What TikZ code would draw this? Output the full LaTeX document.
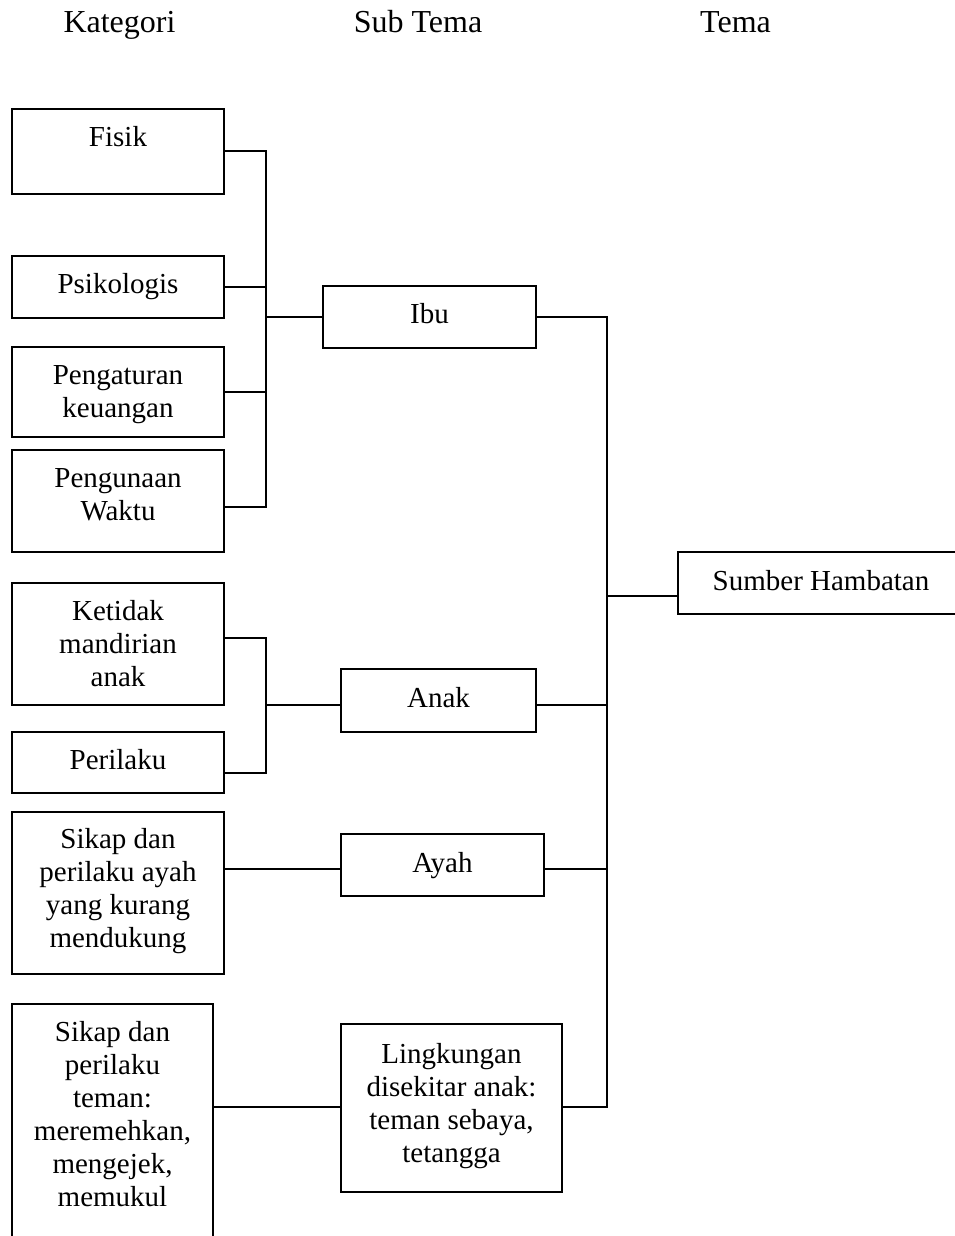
\documentclass[tikz,border=0pt]{standalone}
\usepackage{fontspec}
\setmainfont{Liberation Serif}
\usetikzlibrary{positioning}
\begin{document}
\begin{tikzpicture}[x=1pt,y=-1pt,
  box/.style={draw, line width=1.9pt, inner sep=0pt, outer sep=0pt},
  lbl/.style={inner sep=0pt, outer sep=0pt, align=center,
    font=\fontsize{29}{33}\selectfont},
  head/.style={inner sep=0pt, font=\fontsize{32}{36}\selectfont},
  wire/.style={line width=1.9pt}]
\useasboundingbox (0,0) rectangle (955,1236);
\clip (0,0) rectangle (955,1236);

% column headings
\node[head, anchor=base] (hkat) at (119.5,33) {Kategori};
\node[head, anchor=base] (hsub) at (418,33) {Sub Tema};
\node[head, anchor=base] (htema) at (735.5,33) {Tema};

% category boxes
\node[box, minimum width=212pt, minimum height=85pt]  (fisik)   at (118,151.5) {};
\node[box, minimum width=212pt, minimum height=62pt]  (psiko)   at (118,287) {};
\node[box, minimum width=212pt, minimum height=90pt]  (pengat)  at (118,392) {};
\node[box, minimum width=212pt, minimum height=102pt] (pengun)  at (118,501) {};
\node[box, minimum width=212pt, minimum height=122pt] (ketidak) at (118,644) {};
\node[box, minimum width=212pt, minimum height=61pt]  (perilaku) at (118,762.5) {};
\node[box, minimum width=212pt, minimum height=162pt] (sikapayah) at (118,893) {};
\node[box, minimum width=201pt, minimum height=300pt] (teman)   at (112.5,1154) {};

% sub-theme boxes
\node[box, minimum width=213pt, minimum height=62pt]  (ibu)  at (429.5,317) {};
\node[box, minimum width=195pt, minimum height=63pt]  (anak) at (438.5,700.5) {};
\node[box, minimum width=203pt, minimum height=62pt]  (ayah) at (442.5,865) {};
\node[box, minimum width=221pt, minimum height=168pt] (ling) at (451.5,1108) {};

% theme box
\node[box, minimum width=322pt, minimum height=62pt] (sumber) at (839,583) {};

% labels
\node[lbl, below=14.5pt of fisik.north]     (tfisik)   {\strut Fisik};
\node[lbl, below=14.5pt of psiko.north]     (tpsiko)   {\strut Psikologis};
\node[lbl, below=14.5pt of pengat.north]    (tpengat)  {\strut Pengaturan\\keuangan};
\node[lbl, below=14.5pt of pengun.north]    (tpengun)  {\strut Pengunaan\\Waktu};
\node[lbl, below=14.5pt of ketidak.north]   (tketidak) {\strut Ketidak\\mandirian\\anak};
\node[lbl, below=14.5pt of perilaku.north]  (tperilaku) {\strut Perilaku};
\node[lbl, below=13.5pt of sikapayah.north] (tsikapayah) {\strut Sikap dan\\perilaku ayah\\yang kurang\\mendukung};
\node[lbl, below=14.5pt of teman.north]     (tteman)   {\strut Sikap dan\\perilaku\\teman:\\meremehkan,\\mengejek,\\memukul};
\node[lbl, below=14.5pt of ibu.north]       (tibu)     {\strut Ibu};
\node[lbl, below=15.5pt of anak.north]      (tanak)    {\strut Anak};
\node[lbl, below=15.5pt of ayah.north]      (tayah)    {\strut Ayah};
\node[lbl, below=16.5pt of ling.north]      (tling)    {\strut Lingkungan\\disekitar anak:\\teman sebaya,\\tetangga};
\node[lbl, anchor=north] (tsumber) at (821,567.5) {\strut Sumber Hambatan};

% junction points
\coordinate (b1top) at (266,151);
\coordinate (b1bot) at (266,507);
\coordinate (b2top) at (266,638);
\coordinate (b2mid) at (266,705);
\coordinate (b2bot) at (266,773);
\coordinate (ay)    at (266,869);
\coordinate (r1)    at (607,317);
\coordinate (rs)    at (607,596);
\coordinate (r2)    at (607,1107);

% Ibu bracket
\draw[wire] (fisik.east |- b1top) -- (b1top) -- (b1bot) -- (pengun.east |- b1bot);
\draw[wire] (psiko.east) -- (psiko.east -| b1top);
\draw[wire] (pengat.east) -- (pengat.east -| b1top);
\draw[wire] (ibu.west) -- (ibu.west -| b1top);

% Anak bracket
\draw[wire] (ketidak.east |- b2top) -- (b2top) -- (b2bot) -- (perilaku.east |- b2bot);
\draw[wire] (b2mid) -- (anak.west |- b2mid);

% Ayah link
\draw[wire] (sikapayah.east |- ay) -- (ayah.west |- ay);

% Lingkungan link
\draw[wire] (teman.east |- r2) -- (ling.west |- r2);

% theme trunk
\draw[wire] (ibu.east |- r1) -- (r1) -- (r2) -- (ling.east |- r2);
\draw[wire] (anak.east |- b2mid) -- (b2mid -| r1);
\draw[wire] (ayah.east |- ay) -- (ay -| r1);
\draw[wire] (rs) -- (sumber.west |- rs);
\end{tikzpicture}
\end{document}
